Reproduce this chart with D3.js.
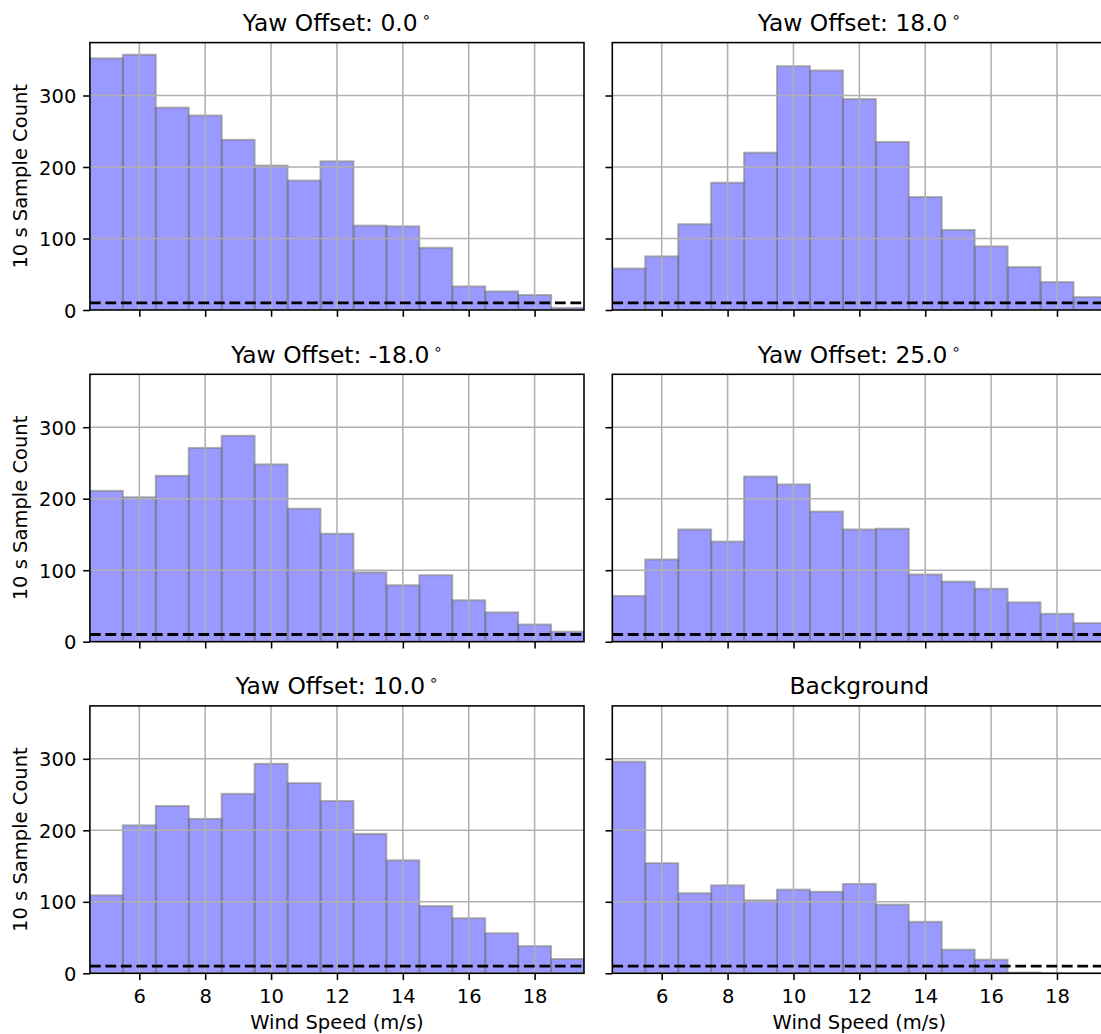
<!DOCTYPE html>
<html>
<head>
<meta charset="utf-8">
<script src="https://cdn.jsdelivr.net/npm/d3@7"></script>
<style>
  html, body { margin: 0; padding: 0; background: #fff; }
  svg { display: block; font-family: "DejaVu Sans", sans-serif; }
</style>
</head>
<body>
<svg id="chart" width="1101" height="1034"></svg>
<script>
// ---- data ----
const binStarts = [4.5, 5.5, 6.5, 7.5, 8.5, 9.5, 10.5, 11.5, 12.5, 13.5, 14.5, 15.5, 16.5, 17.5, 18.5];
const binWidth = 1;
const panelTitles = ["Yaw Offset: 0.0", "Yaw Offset: 18.0", "Yaw Offset: -18.0", "Yaw Offset: 25.0", "Yaw Offset: 10.0", "Background"];
const titleHasDegree = [true, true, true, true, true, false];
const yaw0 = [352, 357, 283, 272, 238, 202, 181, 208, 118, 117, 87, 33, 26, 21, 3];
const yaw18 = [58, 75, 120, 178, 220, 341, 335, 295, 235, 158, 112, 89, 60, 39, 18];
const yawMinus18 = [211, 202, 232, 271, 288, 248, 186, 151, 97, 79, 93, 58, 41, 24, 14];
const yaw25 = [64, 115, 157, 140, 231, 220, 182, 157, 158, 94, 84, 74, 55, 39, 26];
const yaw10 = [109, 207, 234, 216, 251, 293, 266, 241, 195, 158, 94, 77, 56, 38, 20];
const background = [296, 154, 112, 123, 102, 117, 114, 125, 96, 72, 33, 19, 1, 0, 0];
const seriesList = [yaw0, yaw18, yawMinus18, yaw25, yaw10, background];
const threshold = 10;
const xTicks = [6, 8, 10, 12, 14, 16, 18];
const yTicks = [0, 100, 200, 300];
const xDomain = [4.5, 19.5];
const yDomain = [0, 374];
const xLabel = "Wind Speed (m/s)";
const yLabel = "10 s Sample Count";

// ---- layout ----
const colLeft = [89.9, 612.3];
const panelW = 494.1;
const rowBottom = [310.0, 641.7, 973.3];
const panelH = 267.4;
const tickLen = 6.8, tickPad = 6.8, spineW = 1.56;
const tickFont = 19.5, labelFont = 19.5, titleFont = 23.4;

const svg = d3.select("#chart");
const defs = svg.append("defs");

seriesList.forEach((values, i) => {
  const col = i % 2, row = Math.floor(i / 2);
  const x0 = colLeft[col], yB = rowBottom[row], yT = yB - panelH;
  const x = d3.scaleLinear().domain(xDomain).range([x0, x0 + panelW]);
  const y = d3.scaleLinear().domain(yDomain).range([yB, yT]);

  const clipId = "clip" + i;
  defs.append("clipPath").attr("id", clipId)
    .append("rect").attr("x", x0).attr("y", yT).attr("width", panelW).attr("height", panelH);

  const g = svg.append("g");
  const inner = g.append("g").attr("clip-path", `url(#${clipId})`);

  // bars
  inner.selectAll("rect.bar").data(values.map((v, k) => ({ v, s: binStarts[k] })))
    .enter().append("rect")
    .attr("x", d => x(d.s))
    .attr("width", d => x(d.s + binWidth) - x(d.s))
    .attr("y", d => y(d.v))
    .attr("height", d => y(0) - y(d.v))
    .attr("fill", "rgb(0,0,255)").attr("fill-opacity", 0.4)
    .attr("stroke", "rgb(128,128,128)").attr("stroke-opacity", 0.6)
    .attr("stroke-width", 2);

  // grid (above bars, like matplotlib default)
  inner.selectAll("line.gx").data(xTicks).enter().append("line")
    .attr("x1", d => x(d)).attr("x2", d => x(d))
    .attr("y1", yT).attr("y2", yB)
    .attr("stroke", "#b0b0b0").attr("stroke-width", 1.56);
  inner.selectAll("line.gy").data(yTicks).enter().append("line")
    .attr("x1", x0).attr("x2", x0 + panelW)
    .attr("y1", d => y(d)).attr("y2", d => y(d))
    .attr("stroke", "#b0b0b0").attr("stroke-width", 1.56);

  // threshold dashed line
  inner.append("line")
    .attr("x1", x0).attr("x2", x0 + panelW)
    .attr("y1", y(threshold)).attr("y2", y(threshold))
    .attr("stroke", "#000").attr("stroke-width", 2.9)
    .attr("stroke-dasharray", "10.8,4.7");

  // spines
  g.append("rect").attr("x", x0).attr("y", yT).attr("width", panelW).attr("height", panelH)
    .attr("fill", "none").attr("stroke", "#000").attr("stroke-width", spineW);

  // x axis ticks
  const xAxis = d3.axisBottom(x).tickValues(xTicks).tickSize(tickLen).tickPadding(tickPad)
    .tickFormat(row === 2 ? d3.format("d") : () => "");
  const gx = g.append("g").attr("transform", `translate(0,${yB})`).call(xAxis);
  gx.select(".domain").remove();
  gx.selectAll(".tick line").attr("stroke", "#000").attr("stroke-width", spineW);
  gx.selectAll(".tick text").attr("font-size", tickFont).attr("fill", "#000")
    .attr("font-family", "DejaVu Sans").attr("y", 29.5).attr("dy", null);

  // y axis ticks
  const yAxis = d3.axisLeft(y).tickValues(yTicks).tickSize(tickLen).tickPadding(tickPad)
    .tickFormat(col === 0 ? d3.format("d") : () => "");
  const gy = g.append("g").attr("transform", `translate(${x0},0)`).call(yAxis);
  gy.select(".domain").remove();
  gy.selectAll(".tick line").attr("stroke", "#000").attr("stroke-width", spineW);
  gy.selectAll(".tick text").attr("font-size", tickFont).attr("fill", "#000")
    .attr("font-family", "DejaVu Sans").attr("x", -(tickLen + tickPad)).attr("dy", "0.364em");

  // title
  const cx = x0 + panelW / 2;
  const t = g.append("text").attr("x", cx).attr("y", yT - 11.7)
    .attr("text-anchor", "middle").attr("font-size", titleFont).attr("fill", "#000")
    .text(panelTitles[i]);
  if (titleHasDegree[i]) {
    t.append("tspan").attr("dx", 4).attr("dy", -9).attr("font-size", 15).text("\u2218");
  }

  // axis labels
  if (row === 2) {
    g.append("text").attr("x", cx).attr("y", 1029)
      .attr("text-anchor", "middle").attr("font-size", labelFont).attr("fill", "#000")
      .text(xLabel);
  }
  if (col === 0) {
    const cy = (yT + yB) / 2;
    g.append("text").attr("transform", `translate(27,${cy}) rotate(-90)`)
      .attr("text-anchor", "middle").attr("font-size", labelFont).attr("fill", "#000")
      .text(yLabel);
  }
});
</script>
</body>
</html>
